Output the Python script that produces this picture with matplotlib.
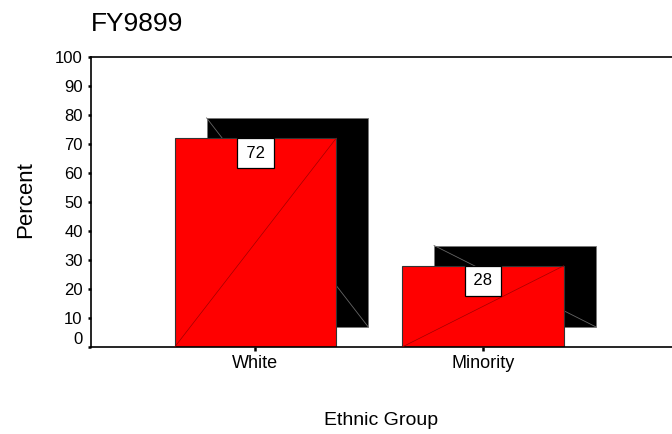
import numpy as np
import matplotlib.pyplot as plt
from matplotlib import transforms

# Percent of cases by ethnic group, FY9899
groups = ['White', 'Minority']
percent = [72, 28]

plt.rcParams['font.family'] = ['Liberation Sans', 'DejaVu Sans']

fig = plt.figure(figsize=(6.72, 4.34), dpi=100)
ax = fig.add_axes([91/672, 87/434, 581/672, 290/434])

xpos = np.arange(len(groups))
width = 0.71
dx = 0.14   # shadow shifted right (category units)
dy = 7      # shadow shifted up (percent units)

# black drop shadow behind each bar
ax.bar(xpos + dx, percent, width, bottom=dy, color='black',
       edgecolor='#777777', linewidth=0.6, zorder=1)
for x, p in zip(xpos, percent):
    ax.plot([x + dx - width/2, x + dx + width/2], [p + dy, dy],
            color='#666666', lw=0.6, zorder=1.5)

# red bars with a thin diagonal
ax.bar(xpos, percent, width, color='red', edgecolor='#333333',
       linewidth=0.8, zorder=2)
for x, p in zip(xpos, percent):
    ax.plot([x - width/2, x + width/2], [0, p], color='#a00000',
            lw=0.5, zorder=3)

# value boxes hanging from the top of each bar
for x, p in zip(xpos, percent):
    ax.annotate('\u200a%d\u200a' % p, xy=(x, p), xytext=(0, -15),
                textcoords='offset pixels', ha='center', va='center',
                fontsize=12, zorder=4,
                bbox=dict(boxstyle='square,pad=0.45', fc='white',
                          ec='black', lw=0.9))

ax.set_xlim(-0.723, 1.831)
ax.set_ylim(0, 100)
ax.set_yticks(np.arange(0, 101, 10))
ax.set_xticks(xpos, groups)

ax.spines['right'].set_visible(False)
for s in ['top', 'left', 'bottom']:
    ax.spines[s].set_linewidth(1.2)
    ax.spines[s].set_color('black')

ax.tick_params(axis='y', length=2.5, width=1.8, pad=3.5, labelsize=12)
ax.tick_params(axis='x', length=3, width=1.8, pad=3, labelsize=13)

# lift the "0" label a bit
lab0 = ax.get_yticklabels()[0]
lab0.set_transform(lab0.get_transform() +
                   transforms.ScaledTranslation(0, 9/100, fig.dpi_scale_trans))

ax.set_title('FY9899', loc='left', fontsize=19, pad=19)
ax.set_xlabel('Ethnic Group', fontsize=14)
ax.xaxis.set_label_coords(0.5, -0.225)
ax.set_ylabel('Percent', fontsize=16)
ax.yaxis.set_label_coords(-0.094, 0.507)

plt.savefig('out.png', dpi=100)
